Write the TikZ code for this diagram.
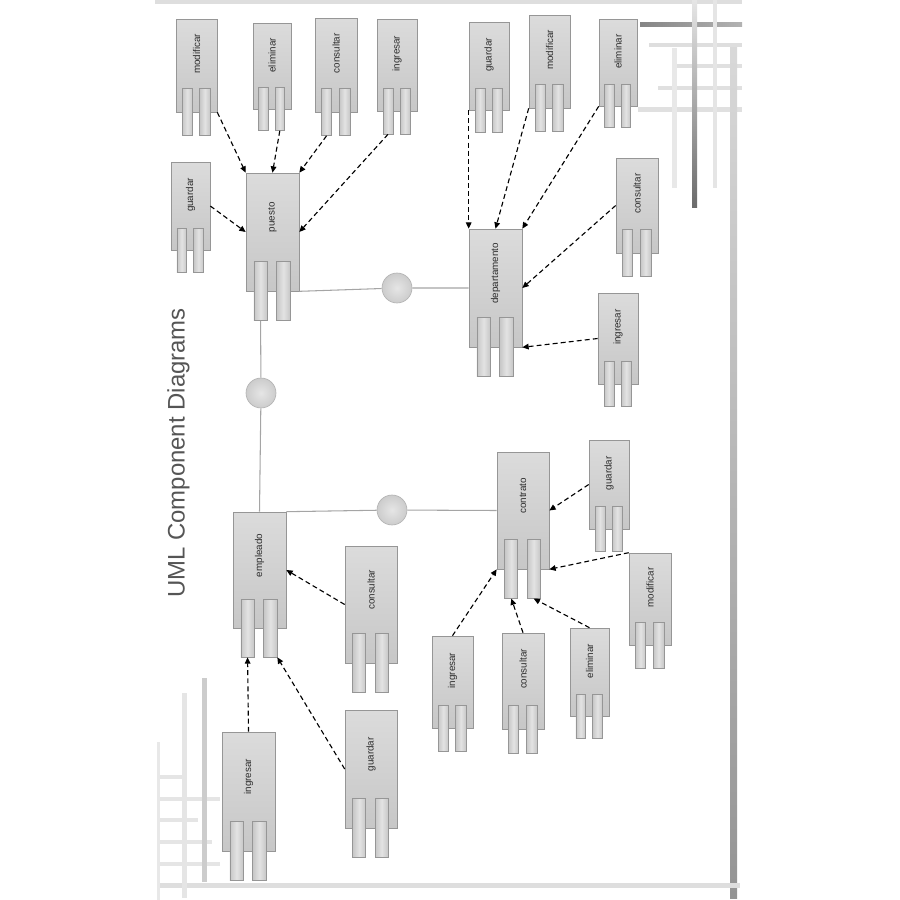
\documentclass[tikz,border=0pt]{standalone}
\usepackage{fontspec}
\setmainfont{Liberation Sans}
\usetikzlibrary{arrows.meta,fit}
\definecolor{ink}{RGB}{45,45,45}
\definecolor{rim}{RGB}{150,150,150}
\definecolor{wire}{RGB}{165,165,165}
\definecolor{headline}{RGB}{85,85,85}
\tikzset{
  body/.style={draw=rim, line width=0.9pt, top color=black!14, bottom color=black!22, inner sep=0pt},
  tab/.style={draw=rim, line width=0.9pt, left color=black!22, right color=black!22, middle color=black!11, inner sep=0pt},
  lbl/.style={rotate=90, font=\fontsize{14}{14}\selectfont, text=ink, inner sep=0pt},
  headtext/.style={rotate=90, font=\fontsize{34}{34}\selectfont, text=headline, inner sep=0pt},
  port/.style={circle, draw=black!30, line width=0.9pt, inner color=black!10, outer color=black!20,
               minimum size=1.5cm, inner sep=0pt},
  link/.style={wire, line width=1.5pt},
  dep/.style={black, line width=1.6pt, dash pattern=on 7pt off 4.5pt, -{Triangle[length=9pt,width=8pt]}},
}
% component: name, x1, y1, x2, y2 (pixels), label
\newcommand{\comp}[6]{%
  \pgfmathsetmacro\compw{#4-#2}\pgfmathsetmacro\comph{#5-#3}%
  \node[body, fit={(#2,#3) (#4,#5)}] (#1) {};
  \node[tab, fit={({#2+0.15*\compw},{#5-0.25*\comph}) ({#2+0.40*\compw},{#5+0.25*\comph})}] (#1-t1) {};
  \node[tab, fit={({#2+0.58*\compw},{#5-0.25*\comph}) ({#2+0.83*\compw},{#5+0.25*\comph})}] (#1-t2) {};
  \node[lbl] (#1-l) at ({(#2+#4)/2},{(#3+#5-0.25*\comph)/2}) {#6};
}

\begin{document}
\begin{tikzpicture}[x=0.05cm,y=-0.05cm]
    \useasboundingbox (0,0) rectangle (900,900);
    % --- frame, top right ---
    \fill[black!13] (155,0) rectangle (742,4);
    \shade[left color=black!48, right color=black!30] (640,22) rectangle (742,26);
    \fill[black!13] (649,43) rectangle (742,47);
    \fill[black!12] (673,64) rectangle (742,68);
    \fill[black!12] (658,86) rectangle (742,90);
    \fill[black!12] (638,107) rectangle (742,112);
    \fill[black!9] (672,48) rectangle (677,188);
    \fill[black!10] (713,0) rectangle (717,188);
    \shade[top color=black!10, bottom color=black!58] (692,0) rectangle (697,207);
    \shade[top color=black!15, bottom color=black!42] (730,47) rectangle (737,898);
    % --- frame, bottom left ---
    \fill[black!13] (157,883) rectangle (740,888);
    \foreach \yy/\xe in {775/183, 797/220, 818/198, 840/212, 862/220}
      \fill[black!10] (158,\yy) rectangle (\xe,\yy+4);
    \fill[black!9] (157,742) rectangle (160,900);
    \fill[black!10] (182,693) rectangle (187,898);
    \fill[black!20] (202,678) rectangle (207,882);
    % --- title ---
    \node[headtext] (titulo) at (178.5,453) {UML Component Diagrams};
    % --- puesto ---
    \comp{pmod}{176}{19}{217}{112}{modificar}
    \comp{pelim}{253}{23}{291}{109}{eliminar}
    \comp{pcons}{315}{18}{357}{112}{consultar}
    \comp{ping}{377}{19}{417}{111}{ingresar}
    \comp{pguar}{171}{162}{210}{250}{guardar}
    \comp{puesto}{246}{173}{299}{291}{puesto}
    % --- departamento ---
    \comp{dguar}{469}{22}{509}{110}{guardar}
    \comp{dmod}{529}{15}{570}{108}{modificar}
    \comp{delim}{599}{19}{637}{106}{eliminar}
    \comp{dcons}{616}{158}{658}{253}{consultar}
    \comp{ding}{598}{293}{638}{384}{ingresar}
    \comp{depto}{469}{229}{522}{347}{departamento}
    % --- empleado ---
    \comp{empleado}{233}{512}{286}{628}{empleado}
    \comp{econs}{345}{546}{397}{663}{consultar}
    \comp{eguar}{345}{710}{397}{828}{guardar}
    \comp{eing}{222}{732}{275}{851}{ingresar}
    % --- contrato ---
    \comp{contrato}{497}{452}{549}{569}{contrato}
    \comp{cguar}{589}{440}{629}{529}{guardar}
    \comp{cmod}{629}{553}{671}{645}{modificar}
    \comp{cing}{432}{636}{473}{728}{ingresar}
    \comp{ccons}{502}{633}{544}{729}{consultar}
    \comp{celim}{570}{628}{609}{716}{eliminar}
    % --- interfaces ---
    \node[port] (c1) at (397,288) {};
    \node[port] (c2) at (261,393) {};
    \node[port] (c3) at (392,510) {};
    \draw[link] (puesto.south east) -- (c1) -- (depto.west);
    \draw[link] (puesto-t1.south) -- (c2) -- (empleado.north);
    \draw[link] (empleado.north east) -- (c3) -- (contrato.west);
    % --- dependencies ---
    \draw[dep] (pmod.south east) -- (puesto.north west);
    \draw[dep] (pelim-t2.south) -- (puesto.north);
    \draw[dep] (pcons-t1.south) -- (puesto.north east);
    \draw[dep] (ping-t1.south) -- (puesto.east);
    \draw[dep] (pguar.east) -- (puesto.west);
    \draw[dep] (dguar.south west) -- (depto.north west);
    \draw[dep] (dmod.south west) -- (depto.north);
    \draw[dep] (delim.south west) -- (depto.north east);
    \draw[dep] (dcons.west) -- (depto.east);
    \draw[dep] (ding.west) -- (depto.south east);
    \draw[dep] (econs.west) -- (empleado.east);
    \draw[dep] (eing.north) -- (empleado-t1.south);
    \draw[dep] (eguar.west) -- (empleado-t2.south east);
    \draw[dep] (cguar.west) -- (contrato.east);
    \draw[dep] (cmod.north west) -- (contrato.south east);
    \draw[dep] (cing.north) -- (contrato.south west);
    \draw[dep] (ccons.north) -- (contrato-t1.south);
    \draw[dep] (celim.north) -- (contrato-t2.south);
\end{tikzpicture}
\end{document}
